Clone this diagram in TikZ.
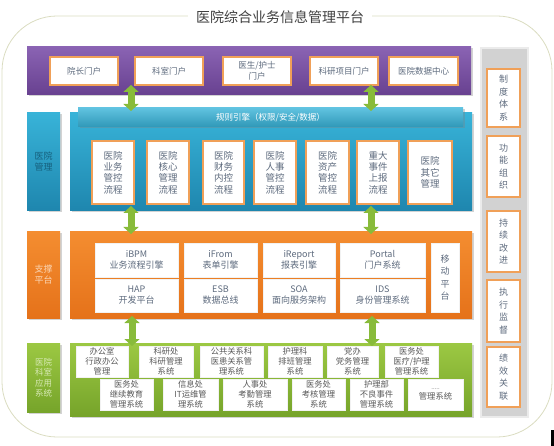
\documentclass[tikz,border=0pt]{standalone}
\usepackage{fontspec}
\setmainfont{Noto Sans CJK SC}
\usetikzlibrary{arrows.meta,shadows}
\definecolor{outer}{HTML}{DADCC0}
\definecolor{pTop}{HTML}{8A63B3}
\definecolor{pBot}{HTML}{684190}
\definecolor{bTop}{HTML}{38B3D8}
\definecolor{bBot}{HTML}{1E86AE}
\definecolor{oTop}{HTML}{F48D30}
\definecolor{oBot}{HTML}{E5721A}
\definecolor{gTop}{HTML}{9CC843}
\definecolor{gBot}{HTML}{76A42A}
\definecolor{obord}{HTML}{F0A058}
\definecolor{txt}{HTML}{5E6B7E}
\definecolor{garr}{HTML}{88BB3A}
\definecolor{grayc}{HTML}{D2D2D2}
\newcommand\bx[7]{\node[#6, minimum width={#4-#2}, minimum height={#5-#3}] (#1) at ({(#2+#4)/2},{(#3+#5)/2}) {#7};}
\tikzset{
  base/.style={inner sep=0pt, align=center, font=\fontsize{8.5}{10.5}\selectfont, text=txt},
  band/.style={base, drop shadow={shadow xshift=1.5pt, shadow yshift=-1.5pt, opacity=0.35}},
  purpleband/.style={band, top color=pTop, bottom color=pBot},
  blueband/.style={band, top color=bTop, bottom color=bBot},
  orangeband/.style={band, top color=oTop, bottom color=oBot},
  greenband/.style={band, top color=gTop, bottom color=gBot},
  obox/.style={base, fill=white, draw=obord, line width=1.4pt},
  pbox/.style={base, fill=white, draw=obord, line width=1.4pt, font=\fontsize{9.5}{11.3}\selectfont},
  wbox/.style={base, fill=white, draw=white!90!gray, line width=0.4pt, drop shadow={shadow xshift=1pt, shadow yshift=-1pt, opacity=0.25}, font=\fontsize{9}{11}\selectfont},
  gbox/.style={base, fill=white, draw=white!90!gray, line width=0.4pt, drop shadow={shadow xshift=1pt, shadow yshift=-1pt, opacity=0.25}, font=\fontsize{8.3}{9.8}\selectfont, text=black!65},
  rbox/.style={base, fill=white, draw=obord, line width=1.4pt, font=\fontsize{9}{12.5}\selectfont},
  lbl/.style={font=\fontsize{9}{11}\selectfont},
  garrow/.style={line width=7pt, draw=garr, {Triangle[width=15pt,length=7pt]}-{Triangle[width=15pt,length=7pt]}},
}
\begin{document}
\begin{tikzpicture}[x=1pt, y=-1pt]
\useasboundingbox (0,0) rectangle (554,446);
% outer frame
\draw[outer, line width=0.8pt, rounded corners=55pt] (2,16) rectangle (552,437);
\node[fill=white, inner xsep=8pt, inner ysep=2pt, font=\fontsize{14}{16}\selectfont, text=black!75] (title) at (280,17) {医院综合业务信息管理平台};
% right column
\bx{rcol}{481}{48}{528}{417}{base, fill=grayc, draw=black!8, line width=1.5pt}{}
\bx{r1}{487}{69}{520}{127}{rbox}{制\\度\\体\\系}
\bx{r2}{487}{136}{520}{197}{rbox}{功\\能\\组\\织}
\bx{r3}{487}{211}{520}{272}{rbox}{持\\续\\改\\进}
\bx{r4}{487}{280}{520}{342}{rbox}{执\\行\\监\\督}
\bx{r5}{487}{347}{520}{407}{rbox}{绩\\效\\关\\联}
% purple band
\bx{purple}{27}{47}{471}{95}{purpleband}{}
\bx{p1}{50}{57}{118}{85}{obox}{院长门户}
\bx{p2}{135}{57}{203}{85}{obox}{科室门户}
\bx{p3}{223}{57}{291}{85}{obox}{医生/护士\\门户}
\bx{p4}{310}{57}{378}{85}{obox}{科研项目门户}
\bx{p5}{389}{57}{458}{85}{obox}{医院数据中心}
% blue band
\bx{bl}{27}{113}{60}{211}{blueband, text=black!10!bBot!80!black, lbl}{医院\\管理}
\bx{blue}{70}{113}{472}{211}{blueband}{}
\bx{rule}{78}{108}{463}{127}{band, top color=bTop!80!white, bottom color=bTop!85!black, text=white, font=\fontsize{8.5}{10}\selectfont}{规则引擎（权限/安全/数据）}
\bx{b1}{92}{141}{134}{204}{pbox}{医院\\业务\\管控\\流程}
\bx{b2}{147}{141}{189}{204}{pbox}{医院\\核心\\管理\\流程}
\bx{b3}{203}{141}{244}{204}{pbox}{医院\\财务\\内控\\流程}
\bx{b4}{254}{141}{296}{204}{pbox}{医院\\人事\\管控\\流程}
\bx{b5}{306}{141}{349}{204}{pbox}{医院\\资产\\管控\\流程}
\bx{b6}{357}{141}{399}{204}{pbox}{重大\\事件\\上报\\流程}
\bx{b7}{408}{141}{452}{204}{pbox}{医院\\其它\\管理}
% orange band
\bx{ol}{27}{232}{60}{318}{orangeband, text=oTop!35!white, lbl}{支撑\\平台}
\bx{orange}{70}{232}{472}{318}{orangeband}{}
\bx{o1}{95}{243}{178}{277}{wbox}{iBPM\\业务流程引擎}
\bx{o2}{184}{243}{257}{277}{wbox}{iFrom\\表单引擎}
\bx{o3}{263}{243}{335}{277}{wbox}{iReport\\报表引擎}
\bx{o4}{340}{243}{425}{277}{wbox}{Portal\\门户系统}
\bx{o5}{95}{279}{178}{312}{wbox}{HAP\\开发平台}
\bx{o6}{184}{279}{257}{312}{wbox}{ESB\\数据总线}
\bx{o7}{263}{279}{335}{312}{wbox}{SOA\\面向服务架构}
\bx{o8}{340}{279}{425}{312}{wbox}{IDS\\身份管理系统}
\bx{o9}{431}{243}{459}{312}{wbox, font=\fontsize{9}{12.5}\selectfont}{移\\动\\平\\台}
% green band
\bx{gl}{27}{343}{60}{412}{greenband, text=gTop!40!white, font=\fontsize{8.5}{10.5}\selectfont}{医院\\科室\\应用\\系统}
\bx{green}{70}{343}{472}{416}{greenband}{}
\bx{g1}{76}{346}{128}{377}{gbox}{办公室\\行政办公\\管理}
\bx{g2}{139}{346}{193}{377}{gbox}{科研处\\科研管理\\系统}
\bx{g3}{200}{346}{263}{377}{gbox}{公共关系科\\医患关系管\\理系统}
\bx{g4}{268}{346}{322}{377}{gbox}{护理科\\排班管理\\系统}
\bx{g5}{327}{346}{378}{377}{gbox}{党办\\党务管理\\系统}
\bx{g6}{385}{346}{438}{377}{gbox}{医务处\\医疗/护理\\管理系统}
\bx{g7}{100}{379}{153}{410}{gbox}{医务处\\继续教育\\管理系统}
\bx{g8}{163}{379}{218}{410}{gbox}{信息处\\IT运维管\\理系统}
\bx{g9}{223}{379}{287}{410}{gbox}{人事处\\考勤管理\\系统}
\bx{g10}{292}{379}{345}{410}{gbox}{医务处\\考核管理\\系统}
\bx{g11}{350}{379}{403}{410}{gbox}{护理部\\不良事件\\管理系统}
\bx{g12}{408}{379}{463}{410}{gbox}{{\fontsize{6}{6}\selectfont .....}\\管理系统}
% arrows
\coordinate (a1) at (131,85);  \coordinate (a2) at (131,111);
\coordinate (a3) at (371,85);  \coordinate (a4) at (371,111);
\coordinate (a5) at (131,206); \coordinate (a6) at (131,234);
\coordinate (a7) at (371,206); \coordinate (a8) at (371,234);
\coordinate (a9) at (132,316); \coordinate (a10) at (132,346);
\coordinate (a11) at (372,316); \coordinate (a12) at (372,346);
\draw[garrow] (a1) -- (a2);
\draw[garrow] (a3) -- (a4);
\draw[garrow] (a5) -- (a6);
\draw[garrow] (a7) -- (a8);
\draw[garrow] (a9) -- (a10);
\draw[garrow] (a11) -- (a12);
% mark at bottom right
\fill[black] (551,430) rectangle (554,446);
\end{tikzpicture}
\end{document}
